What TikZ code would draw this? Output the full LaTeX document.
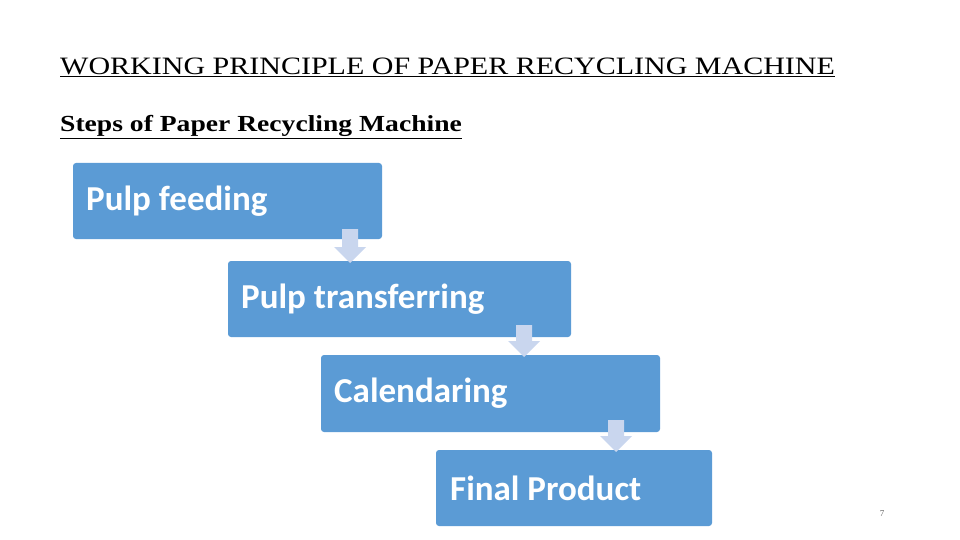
\documentclass[tikz,border=0pt]{standalone}
\usepackage{fontspec}
\setmainfont{Liberation Serif}
\newfontfamily\boxfont{Carlito}
\usepackage{tikz}
\definecolor{stageblue}{HTML}{5B9BD5}
\definecolor{arrowblue}{HTML}{C9D6EE}

\begin{document}
\begin{tikzpicture}
[x=1pt, y=-1pt,
stage/.style={fill=stageblue, rounded corners=3pt, draw=none},
stagetext/.style={anchor=west, text=white, inner sep=0pt, font=\boxfont\bfseries\fontsize{35}{40}\selectfont},
down/.style={fill=arrowblue, draw=none}]
\useasboundingbox (0,0) rectangle (960,540);
% titles
\node[anchor=west, inner sep=0pt, font=\fontsize{25}{28}\selectfont] (title) at (60,67) {\scalebox{1.2}[1]{\underline{WORKING PRINCIPLE OF PAPER RECYCLING MACHINE}}};
\node[anchor=west, inner sep=0pt, font=\bfseries\fontsize{23}{26}\selectfont] (subtitle) at (60,127) {\scalebox{1.2}[1]{\underline{Steps of Paper Recycling Machine}}};
% stage boxes
\fill[stage] (73,163) rectangle (382,239);
\fill[stage] (228,261) rectangle (571,337);
\fill[stage] (321,355) rectangle (660,432);
\fill[stage] (436,450) rectangle (712,526);
\node[stagetext] (feed) at (86,201) {Pulp feeding};
\node[stagetext] (transfer) at (241,299) {Pulp transferring};
\node[stagetext] (calendar) at (334,393) {Calendaring};
\node[stagetext] (final) at (450,488) {Final Product};
% down arrows
\fill[down] (342,229) -- (358,229) -- (358,247) -- (366,247) -- (350,263) -- (334,247) -- (342,247) -- cycle;
\fill[down] (516,325) -- (532,325) -- (532,341) -- (540,341) -- (524,357) -- (508,341) -- (516,341) -- cycle;
\fill[down] (608,420) -- (624,420) -- (624,436) -- (632,436) -- (616,452) -- (600,436) -- (608,436) -- cycle;
% page number
\node[font=\fontsize{9}{10}\selectfont, text=gray!80!black] (page) at (882,514) {7};
\end{tikzpicture}
\end{document}
